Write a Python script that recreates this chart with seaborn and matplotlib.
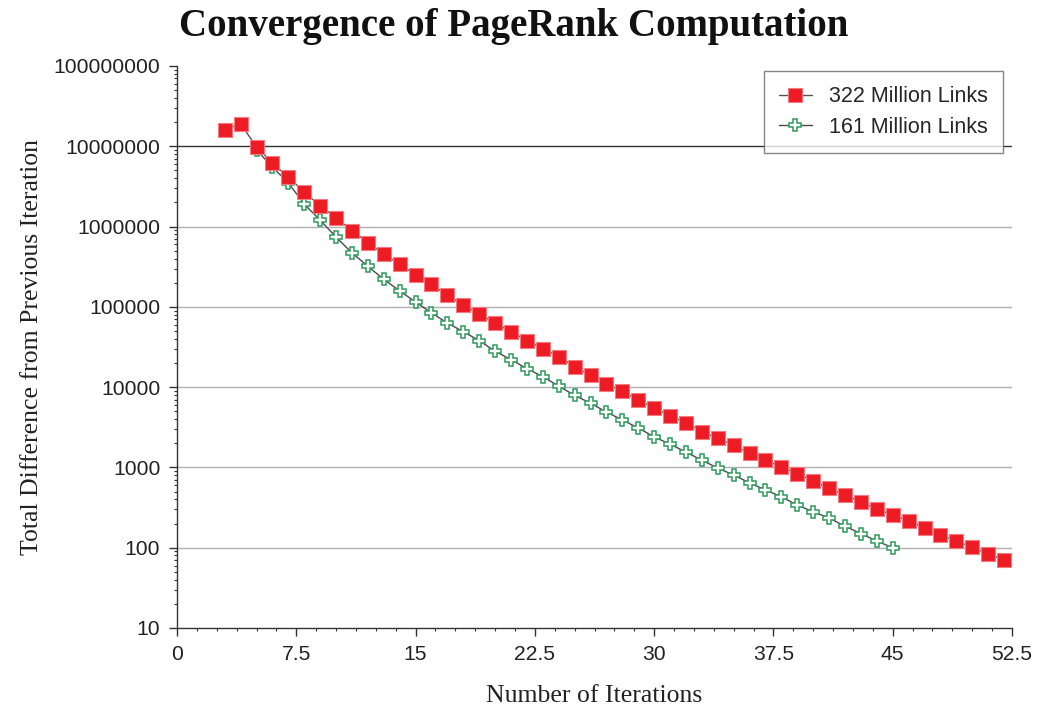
import numpy as np
import pandas as pd
import matplotlib
matplotlib.use("Agg")
import matplotlib.pyplot as plt
import matplotlib.ticker as mticker
import seaborn as sns

# ==========================================================
# DATA
# ==========================================================

iters_322 = list(range(3, 53))
diff_322 = [
    1.6e7, 1.9e7, 9.8e6, 6.2e6, 4.1e6, 2.7e6, 1.8e6, 1.29e6, 8.9e5, 6.3e5,
    4.5e5, 3.4e5, 2.5e5, 1.9e5, 1.4e5, 1.05e5, 8.1e4, 6.3e4, 4.9e4, 3.8e4,
    3.0e4, 2.4e4, 1.8e4, 1.4e4, 1.1e4, 8.9e3, 6.9e3, 5.5e3, 4.4e3, 3.6e3,
    2.8e3, 2.3e3, 1.9e3, 1.5e3, 1.23e3, 1.02e3, 830, 680, 550, 455,
    370, 305, 255, 215, 177, 145, 121, 101, 84, 70,
]

iters_161 = list(range(5, 46))
diff_161 = [
    9.0e6, 5.5e6, 3.5e6, 1.9e6, 1.2e6, 7.4e5, 4.7e5, 3.2e5, 2.2e5, 1.58e5,
    1.15e5, 8.4e4, 6.3e4, 4.9e4, 3.8e4, 2.8e4, 2.2e4, 1.7e4, 1.35e4, 1.03e4,
    7.9e3, 6.3e3, 4.9e3, 3.9e3, 3.1e3, 2.4e3, 1.95e3, 1.55e3, 1.23e3, 980,
    805, 640, 525, 430, 340, 280, 235, 185, 150, 121, 100,
]

series_names = ["322 Million Links", "161 Million Links"]
x_ticks = [0, 7.5, 15, 22.5, 30, 37.5, 45, 52.5]
x_tick_labels = ["0", "7.5", "15", "22.5", "30", "37.5", "45", "52.5"]
y_ticks = [10, 100, 1000, 10000, 100000, 1000000, 10000000, 100000000]

df_322 = pd.DataFrame({"iteration": iters_322, "diff": diff_322})
df_161 = pd.DataFrame({"iteration": iters_161, "diff": diff_161})

# ==========================================================
# STYLE
# ==========================================================

sns.set_style("white")
plt.rcParams["font.family"] = ["Liberation Sans", "DejaVu Sans"]

fig = plt.figure(figsize=(10.5, 7.08), dpi=100)
ax = fig.add_axes([0.1686, 0.113, 0.7952, 0.7938])

# green first so red squares sit on top
sns.lineplot(
    data=df_161, x="iteration", y="diff", ax=ax,
    color="#4a4a4a", linewidth=1.0,
    marker="P", markersize=8.5, markerfacecolor="white",
    markeredgecolor="#2f9a5c", markeredgewidth=1.1,
    label=series_names[1],
)

sns.lineplot(
    data=df_322, x="iteration", y="diff", ax=ax,
    color="#555555", linewidth=1.0,
    marker="s", markersize=10.5, markerfacecolor="#ed1c24",
    markeredgecolor="#f27a80", markeredgewidth=0.8,
    label=series_names[0],
)

ax.set_yscale("log")
ax.set_xlim(0, 52.5)
ax.set_ylim(10, 1e8)

# ==========================================================
# AXES, TICKS, GRID
# ==========================================================

ax.set_xticks(x_ticks)
ax.set_xticklabels(x_tick_labels)
ax.xaxis.set_minor_locator(mticker.MultipleLocator(1.25))

ax.set_yticks(y_ticks)
ax.yaxis.set_major_formatter(mticker.FuncFormatter(lambda v, p: f"{int(round(v))}"))
ax.yaxis.set_minor_locator(mticker.LogLocator(base=10, subs=np.arange(2, 10)))
ax.yaxis.set_minor_formatter(mticker.NullFormatter())

ax.tick_params(axis="both", which="major", direction="out", length=6,
               width=1, color="#333333", labelsize=15.2, labelcolor="#222222", pad=6)
ax.tick_params(axis="both", which="minor", direction="out", length=2.5,
               width=0.8, color="#333333")
ax.tick_params(axis="x", which="both", bottom=True)
ax.tick_params(axis="y", which="both", left=True)

for yv in y_ticks[1:-1]:
    ax.axhline(yv, color="#333333" if yv == 1e7 else "#b0b0b0",
               linewidth=1.0, zorder=0)

for side in ["top", "right"]:
    ax.spines[side].set_visible(False)
for side in ["left", "bottom"]:
    ax.spines[side].set_color("#333333")
    ax.spines[side].set_linewidth(1.0)

# ==========================================================
# LABELS & LEGEND
# ==========================================================

ax.set_xlabel("Number of Iterations", family="Liberation Serif",
              fontsize=18.5, color="#222222", labelpad=15.5)
ax.set_ylabel("Total Difference from Previous Iteration", family="Liberation Serif",
              fontsize=18.5, color="#222222", labelpad=8)

fig.text(0.489, 0.963, "Convergence of PageRank Computation",
         family="Liberation Serif", fontweight="bold", fontsize=28,
         ha="center", va="center", color="#111111")

handles, labels = ax.get_legend_handles_labels()
order = [labels.index(n) for n in series_names]
leg = ax.legend([handles[i] for i in order], [labels[i] for i in order],
                loc="upper right", bbox_to_anchor=(0.989, 0.991),
                borderaxespad=0.0,
                fontsize=15.5, frameon=True, fancybox=False,
                edgecolor="#666666", borderpad=0.7, handlelength=1.5,
                handletextpad=0.8, labelspacing=0.45)
leg.get_frame().set_linewidth(1.0)

fig.savefig("out.png", dpi=100, facecolor="white")
